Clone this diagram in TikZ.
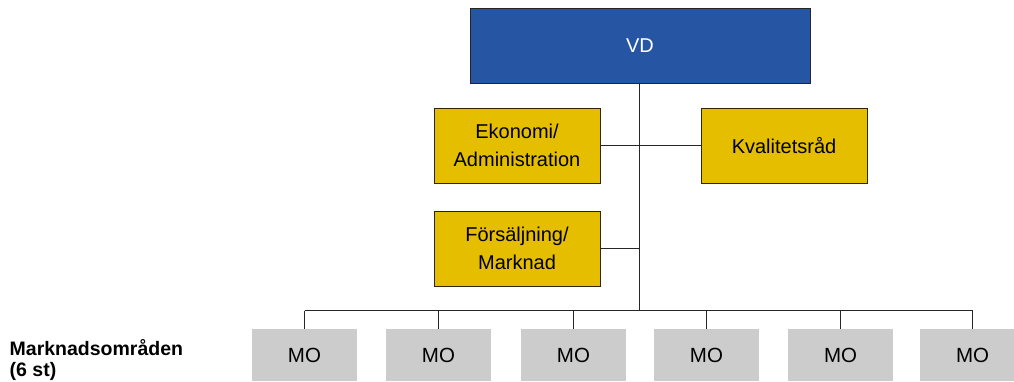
\documentclass[tikz,border=0pt]{standalone}
\usepackage{fontspec}
\setmainfont{Liberation Sans}
\definecolor{vdblue}{RGB}{38,86,163}
\definecolor{unityellow}{RGB}{229,190,0}
\definecolor{mogray}{RGB}{204,204,204}
\begin{document}
\begin{tikzpicture}[x=1pt,y=-1pt,
  boxtext/.style={font=\fontsize{20}{28}\selectfont, align=center},
  vdbox/.style={draw=black!85, line width=0.9pt, fill=vdblue, text=white, minimum width=340pt, minimum height=75pt, inner sep=0pt, boxtext},
  unitbox/.style={draw=black!80!unityellow, line width=0.9pt, fill=unityellow, minimum width=166pt, minimum height=75pt, inner sep=0pt, boxtext},
  mobox/.style={fill=mogray, minimum width=105pt, minimum height=52pt, inner sep=0pt, font=\fontsize{20.5}{24}\selectfont},
  conn/.style={line width=0.9pt, black!85}]
\useasboundingbox (0,0) rectangle (1014,382);
\node[vdbox] (vd) at (640,45.5) {VD};
\node[unitbox] (eko) at (517,145.5) {Ekonomi/\\Administration};
\node[unitbox] (kval) at (784,145.5) {Kvalitetsråd};
\node[unitbox] (fors) at (517,248.5) {Försäljning/\\Marknad};
\foreach \i/\x in {1/304.5,2/438.5,3/573.5,4/706.5,5/840.5,6/972.5}
  \node[mobox] (mo\i) at (\x,355) {MO};
\coordinate (bus) at (639,310.5);
\draw[conn] (vd.south -| bus) -- (bus);
\draw[conn] (eko.east) -- (kval.west);
\draw[conn] (fors.east) -- (fors.east -| bus);
\draw[conn] (mo1.north |- bus) -- (mo6.north |- bus);
\foreach \i in {1,...,6}
  \draw[conn] (mo\i.north |- bus) -- (mo\i.north);
\node[anchor=north west, align=left, font=\bfseries\fontsize{19.5}{21.5}\selectfont, inner sep=0pt] (lab) at (9.5,339) {Marknadsområden\\(6 st)};
\end{tikzpicture}
\end{document}
